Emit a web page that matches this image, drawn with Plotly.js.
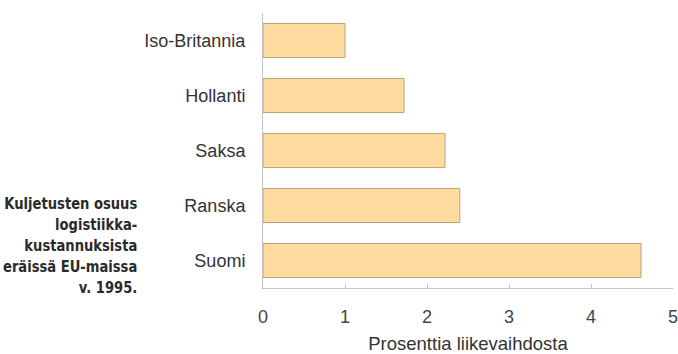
<!DOCTYPE html>
<html><head><meta charset="utf-8">
<script src="https://cdn.plot.ly/plotly-3.0.1.min.js"></script>
<style>html,body{margin:0;padding:0;background:#fff;}#chart{width:678px;height:354px;}
text.annotation-text{transform-box:fill-box;transform-origin:right center;transform:scaleX(0.82);}</style>
</head><body><div id="chart"></div>
<script>
const countries = ["Iso-Britannia", "Hollanti", "Saksa", "Ranska", "Suomi"];
const shares = [1.0, 1.72, 2.22, 2.4, 4.61];
const xTicks = [0, 1, 2, 3, 4, 5];
const xTitle = "Prosenttia liikevaihdosta";
const sideNote = "Kuljetusten osuus<br>logistiikka-<br>kustannuksista<br>eräissä EU-maissa<br>v. 1995.";

const trace = {
  type: "bar", orientation: "h",
  x: shares, y: countries,
  width: 0.62,
  marker: {color: "#fddb9f", line: {color: "#b9a27e", width: 1}},
  hoverinfo: "skip"
};
const layout = {
  width: 678, height: 354,
  margin: {l: 263, r: 5, t: 13, b: 66},
  paper_bgcolor: "#fff", plot_bgcolor: "#fff",
  showlegend: false,
  font: {family: "Liberation Sans, Arial, sans-serif", color: "#333"},
  xaxis: {
    range: [0, 5], tickvals: xTicks, ticktext: xTicks.map(String),
    showgrid: false, zeroline: false, showline: true, linecolor: "#c4c4c4", linewidth: 1,
    ticks: "inside", ticklen: 4, tickcolor: "#c4c4c4",
    tickfont: {size: 18, color: "#444"}, ticklabelstandoff: 12,
    ticklabeloverflow: "allow",
    title: {text: xTitle, font: {size: 18.5, color: "#333"}, standoff: 14}
  },
  yaxis: {
    type: "category", autorange: false, range: [4.5, -0.5],
    showgrid: false, zeroline: false, showline: true, linecolor: "#c4c4c4", linewidth: 1,
    ticks: "", tickfont: {size: 18, color: "#333"}, ticklabelstandoff: 13
  },
  annotations: [{
    xref: "paper", yref: "paper", x: -0.3, y: 0.156,
    xanchor: "right", yanchor: "middle", align: "right", showarrow: false,
    text: "<b>" + sideNote + "</b>",
    font: {family: "DejaVu Sans, sans-serif", size: 16, color: "#2a2a2a"}
  }]
};
Plotly.newPlot("chart", [trace], layout, {displayModeBar: false, staticPlot: true});
</script></body></html>
